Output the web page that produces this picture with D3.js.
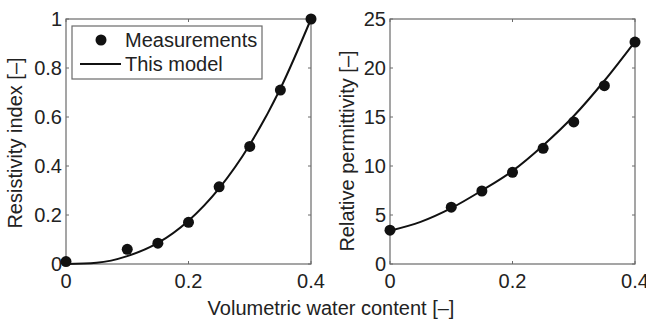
<!DOCTYPE html>
<html>
<head>
<meta charset="utf-8">
<script src="https://cdn.jsdelivr.net/npm/d3@7"></script>
<style>
  body { margin: 0; background: #fff; }
  svg text { font-family: "Liberation Sans", Arial, sans-serif; fill: #222; }
</style>
</head>
<body>
<svg id="chart" width="646" height="325"></svg>
<script>
// measured water content
const waterContent = [0, 0.1, 0.15, 0.2, 0.25, 0.3, 0.35, 0.4];
const resistivityMeas = [0.01, 0.06, 0.085, 0.17, 0.315, 0.48, 0.71, 1.0];
const permittivityMeas = [3.45, 5.8, 7.45, 9.35, 11.8, 14.5, 18.2, 22.65];

// model curve
const modelX = [0, 0.05, 0.1, 0.15, 0.2, 0.25, 0.3, 0.35, 0.4];
const resistivityModel = [0, 0.005, 0.032, 0.086, 0.177, 0.309, 0.487, 0.716, 1.0];
const permittivityModel = [3.4, 4.3, 5.7, 7.5, 9.5, 12.1, 15.1, 18.7, 22.7];

const xTicks = [0, 0.2, 0.4];
const resistivityTicks = [0, 0.2, 0.4, 0.6, 0.8, 1];
const permittivityTicks = [0, 5, 10, 15, 20, 25];

const svg = d3.select('#chart');
const plotTop = 19, plotBottom = 264;
const fontSize = 20;

function drawPanel(opts) {
  const x = d3.scaleLinear().domain([0, 0.4]).range([opts.left, opts.right]);
  const y = d3.scaleLinear().domain(opts.yDomain).range([plotBottom, plotTop]);
  const g = svg.append('g');

  // box
  g.append('rect')
    .attr('x', opts.left).attr('y', plotTop)
    .attr('width', opts.right - opts.left).attr('height', plotBottom - plotTop)
    .attr('fill', 'none').attr('stroke', '#6a6a6a').attr('stroke-width', 1.2);

  // inward ticks on all sides
  xTicks.forEach(t => {
    g.append('line').attr('x1', x(t)).attr('x2', x(t)).attr('y1', plotBottom).attr('y2', plotBottom - 3)
      .attr('stroke', '#6a6a6a');
    g.append('line').attr('x1', x(t)).attr('x2', x(t)).attr('y1', plotTop).attr('y2', plotTop + 3)
      .attr('stroke', '#6a6a6a');
    g.append('text').attr('x', x(t)).attr('y', 288)
      .attr('text-anchor', 'middle').attr('font-size', fontSize).text(t);
  });
  opts.yTicks.forEach(t => {
    g.append('line').attr('x1', opts.left).attr('x2', opts.left + 3).attr('y1', y(t)).attr('y2', y(t))
      .attr('stroke', '#6a6a6a');
    g.append('line').attr('x1', opts.right).attr('x2', opts.right - 3).attr('y1', y(t)).attr('y2', y(t))
      .attr('stroke', '#6a6a6a');
    g.append('text').attr('x', opts.left - 4).attr('y', y(t) + 7)
      .attr('text-anchor', 'end').attr('font-size', fontSize).text(t);
  });

  // y label
  g.append('text')
    .attr('transform', `translate(${opts.labelX},${opts.labelY}) rotate(-90)`)
    .attr('text-anchor', 'middle').attr('font-size', fontSize).text(opts.label);

  // model line
  const line = d3.line().x(d => x(d[0])).y(d => y(d[1])).curve(d3.curveMonotoneX);
  g.append('path')
    .datum(modelX.map((v, i) => [v, opts.model[i]]))
    .attr('d', line).attr('fill', 'none').attr('stroke', '#111').attr('stroke-width', 2);

  // measurements
  g.selectAll('.pt')
    .data(waterContent.map((v, i) => [v, opts.meas[i]]))
    .enter().append('circle')
    .attr('cx', d => x(d[0])).attr('cy', d => y(d[1])).attr('r', 5.5).attr('fill', '#111');
}

drawPanel({
  left: 66, right: 311, yDomain: [0, 1], yTicks: resistivityTicks,
  meas: resistivityMeas, model: resistivityModel,
  label: 'Resistivity index [–]', labelX: 22, labelY: 143
});
drawPanel({
  left: 390, right: 635, yDomain: [0, 25], yTicks: permittivityTicks,
  meas: permittivityMeas, model: permittivityModel,
  label: 'Relative permittivity [–]', labelX: 354, labelY: 151
});

// legend
const legend = svg.append('g');
legend.append('rect').attr('x', 72).attr('y', 26).attr('width', 190).attr('height', 53)
  .attr('fill', '#fff').attr('stroke', '#6a6a6a').attr('stroke-width', 1.2);
legend.append('circle').attr('cx', 101).attr('cy', 40).attr('r', 5.5).attr('fill', '#111');
legend.append('line').attr('x1', 80).attr('x2', 121).attr('y1', 64).attr('y2', 64)
  .attr('stroke', '#111').attr('stroke-width', 2);
legend.append('text').attr('x', 125).attr('y', 47).attr('font-size', fontSize).text('Measurements');
legend.append('text').attr('x', 125).attr('y', 71).attr('font-size', fontSize).text('This model');

// shared x label
svg.append('text').attr('x', 331).attr('y', 315).attr('text-anchor', 'middle')
  .attr('font-size', fontSize).text('Volumetric water content [–]');
</script>
</body>
</html>
